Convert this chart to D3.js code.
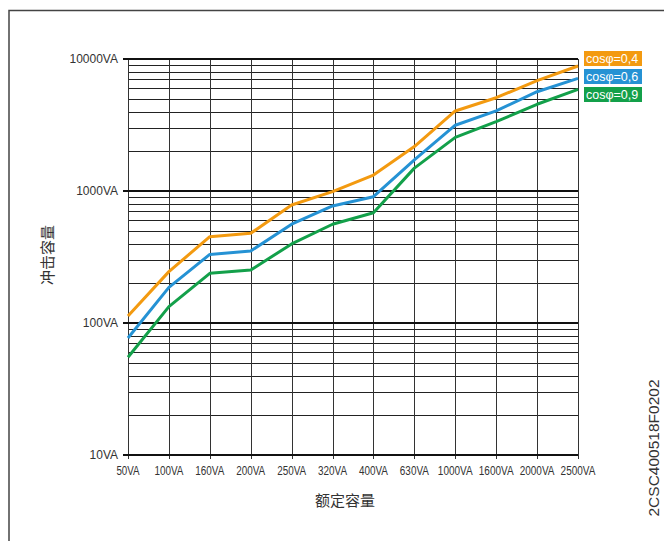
<!DOCTYPE html>
<html>
<head>
<meta charset="utf-8">
<script src="https://cdn.jsdelivr.net/npm/d3@7"></script>
<style>
  body { margin: 0; background: #fff; }
  svg text { font-family: "Liberation Sans", Arial, sans-serif; fill: #333; }
</style>
</head>
<body>
<div class="chart"></div>
<script>
// catégories (puissance nominale)
const categories = ["50VA", "100VA", "160VA", "200VA", "250VA", "320VA", "400VA",
                    "630VA", "1000VA", "1600VA", "2000VA", "2500VA"];

// courbes
const cos04 = [113, 245, 451, 478, 783, 988, 1320, 2170, 4040, 5090, 6850, 8850];
const cos06 = [77, 186, 331, 351, 560, 770, 905, 1720, 3150, 4040, 5650, 7140];
const cos09 = [55, 133, 238, 252, 397, 560, 685, 1490, 2550, 3350, 4540, 5890];

const seriesNames = ["cosφ=0,4", "cosφ=0,6", "cosφ=0,9"];
const seriesColors = ["#F39A10", "#2592D4", "#13A04A"];

const yTicks = [10, 100, 1000, 10000];
const yTickLabels = ["10VA", "100VA", "1000VA", "10000VA"];

var W = 664, H = 541;
var margin = {top: 59, right: 86, bottom: 86, left: 128};
var width = W - margin.left - margin.right,
    height = H - margin.top - margin.bottom;

var root = d3.select(".chart").append("svg")
    .attr("width", W)
    .attr("height", H);

// cadre
root.append("path")
    .attr("d", "M9,541 L9,10.5 L664,10.5")
    .attr("fill", "none")
    .attr("stroke", "#444")
    .attr("stroke-width", 1.5);

var svg = root.append("g")
    .attr("transform", "translate(" + margin.left + "," + margin.top + ")");

var x = d3.scalePoint().domain(categories).range([0, width]);
var y = d3.scaleLog().domain([10, 10000]).range([height, 0]);

// grille mineure
var minor = [];
for (var dec = 10; dec < 10000; dec *= 10)
    for (var k = 2; k <= 9; k++) minor.push(dec * k);

svg.append("g").selectAll("line")
    .data(minor)
    .enter().append("line")
    .attr("x1", 0).attr("x2", width)
    .attr("y1", d => Math.round(y(d)) + 0.5)
    .attr("y2", d => Math.round(y(d)) + 0.5)
    .attr("stroke", "#222")
    .attr("stroke-width", 1);

// grille verticale
svg.append("g").selectAll("line")
    .data(categories)
    .enter().append("line")
    .attr("x1", d => Math.round(x(d)) + 0.5)
    .attr("x2", d => Math.round(x(d)) + 0.5)
    .attr("y1", 0).attr("y2", height + 4)
    .attr("stroke", "#333")
    .attr("stroke-width", 1);

// grille majeure + ticks
svg.append("g").selectAll("line")
    .data(yTicks)
    .enter().append("line")
    .attr("x1", -5).attr("x2", width)
    .attr("y1", d => y(d)).attr("y2", d => y(d))
    .attr("stroke", "#111")
    .attr("stroke-width", 2);

// axe Y
svg.append("g").selectAll("text")
    .data(yTicks)
    .enter().append("text")
    .attr("x", -10)
    .attr("y", d => y(d))
    .attr("dy", "0.35em")
    .attr("text-anchor", "end")
    .style("font-size", "12px")
    .text((d, i) => yTickLabels[i]);

// axe X
svg.append("g").selectAll("text")
    .data(categories)
    .enter().append("text")
    .attr("x", d => x(d))
    .attr("y", height + 20)
    .attr("text-anchor", "middle")
    .attr("textLength", d => d.length * 5.8)
    .attr("lengthAdjust", "spacingAndGlyphs")
    .style("font-size", "12px")
    .text(d => d);

// courbes
var line = d3.line()
    .x((d, i) => x(categories[i]))
    .y(d => y(d));

[cos04, cos06, cos09].forEach(function(s, i) {
    svg.append("path")
        .datum(s)
        .attr("fill", "none")
        .attr("stroke", seriesColors[i])
        .attr("stroke-width", 3)
        .attr("stroke-linejoin", "round")
        .attr("d", line);
});

// légende
var legends = root.selectAll(".legend")
    .data(seriesNames)
    .enter().append("g")
    .attr("class", "legend")
    .attr("transform", (d, i) => "translate(584," + (51 + i * 18) + ")");

legends.append("rect")
    .attr("width", 58)
    .attr("height", 15)
    .attr("fill", (d, i) => seriesColors[i]);

legends.append("text")
    .attr("x", 2)
    .attr("y", 12)
    .style("fill", "#fff")
    .style("font-size", "12.5px")
    .text(d => d);

// titres
root.append("text")
    .attr("x", 345)
    .attr("y", 506)
    .attr("text-anchor", "middle")
    .style("font-family", "'Noto Sans CJK SC', sans-serif")
    .style("font-size", "15px")
    .text("额定容量");

root.append("text")
    .attr("transform", "translate(53,255) rotate(-90)")
    .attr("text-anchor", "middle")
    .style("font-family", "'Noto Sans CJK SC', sans-serif")
    .style("font-size", "15px")
    .text("冲击容量");

root.append("text")
    .attr("transform", "translate(659,448) rotate(-90)")
    .attr("text-anchor", "middle")
    .style("font-size", "15.5px")
    .text("2CSC400518F0202");
</script>
</body>
</html>
